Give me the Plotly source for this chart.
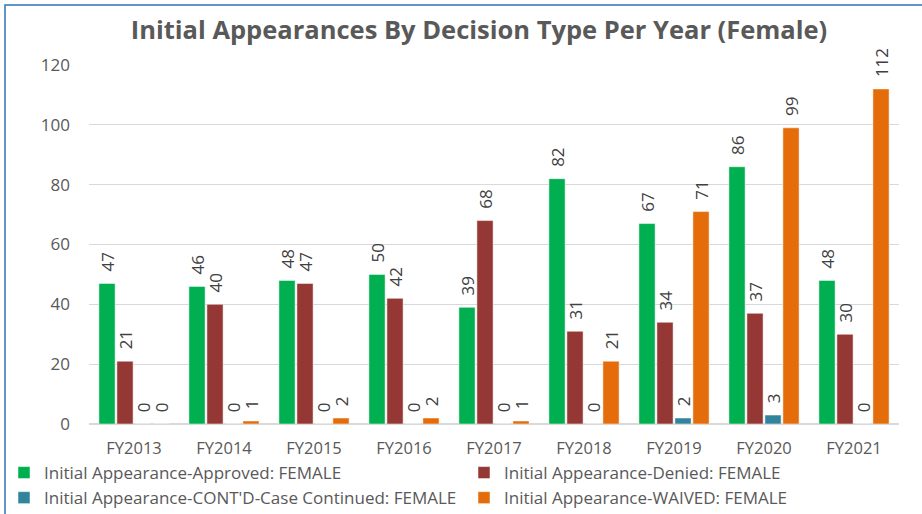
import plotly.graph_objects as go

categories = ["FY2013", "FY2014", "FY2015", "FY2016", "FY2017", "FY2018", "FY2019", "FY2020", "FY2021"]
approved = [47, 46, 48, 50, 39, 82, 67, 86, 48]
denied = [21, 40, 47, 42, 68, 31, 34, 37, 30]
continued = [0, 0, 0, 0, 0, 0, 2, 3, 0]
waived = [0, 1, 2, 2, 1, 21, 71, 99, 112]

series = [
    ("Initial Appearance-Approved: FEMALE", approved, "#00B050", "legend"),
    ("Initial Appearance-Denied: FEMALE", denied, "#953735", "legend2"),
    ("Initial Appearance-CONT'D-Case Continued: FEMALE", continued, "#31849B", "legend"),
    ("Initial Appearance-WAIVED: FEMALE", waived, "#E46C0A", "legend2"),
]

W, H = 922, 514
ML, MR, MT, MB = 89, 23, 65, 90
PW = W - ML - MR
PH = H - MT - MB

fig = go.Figure()
for name, vals, color, lg in series:
    fig.add_trace(go.Bar(
        x=categories, y=vals, name=name, legend=lg,
        marker=dict(color=color, line=dict(color="white", width=0.5)),
        text=["\u00a0\u00a0" + str(v) for v in vals], textposition="outside", textangle=-90,
        textfont=dict(family="Open Sans", size=17, color="#404040"),
        cliponaxis=False, constraintext="none",
    ))

legend_common = dict(orientation="v", yanchor="top", xanchor="left",
                     xref="container", yref="container",
                     y=1 - 455 / H,
                     font=dict(family="Open Sans", size=17, color="#595959"),
                     itemwidth=30, traceorder="normal", bgcolor="rgba(0,0,0,0)")

fig.update_layout(
    width=W, height=H,
    margin=dict(l=ML, r=MR, t=MT, b=MB, autoexpand=False),
    paper_bgcolor="white", plot_bgcolor="white",
    barmode="group", bargap=0.2, bargroupgap=0.1,
    title=dict(text="<b>Initial Appearances By Decision Type Per Year (Female)</b>",
               x=479 / W, xref="container", xanchor="center",
               y=1 - 30 / H, yref="container", yanchor="middle",
               font=dict(family="Open Sans", size=25.5, color="#595959")),
    font=dict(family="Open Sans", color="#595959"),
    xaxis=dict(showgrid=False, showline=False, ticks="", ticklabelstandoff=12,
               automargin=False, tickfont=dict(size=16.5, color="#595959")),
    yaxis=dict(range=[0, 120], dtick=20, showgrid=True, gridcolor="#D9D9D9",
               zeroline=True, zerolinecolor="#D9D9D9", zerolinewidth=1.5,
               ticks="", ticklabelstandoff=18, automargin=False,
               tickfont=dict(size=17, color="#595959")),
    legend=dict(**legend_common, x=4 / W),
    legend2=dict(**legend_common, x=464 / W),
    showlegend=True,
    shapes=[dict(type="rect", xref="paper", yref="paper",
                 x0=(5 - ML) / PW, x1=(925 - ML) / PW,
                 y0=-(520 - MT - PH) / PH, y1=1 + (MT - 5) / PH,
                 line=dict(color="#2E75B6", width=1.5))],
)

fig.write_html("out.html", config={"displayModeBar": False},
               post_script="document.body.style.margin='0';")
